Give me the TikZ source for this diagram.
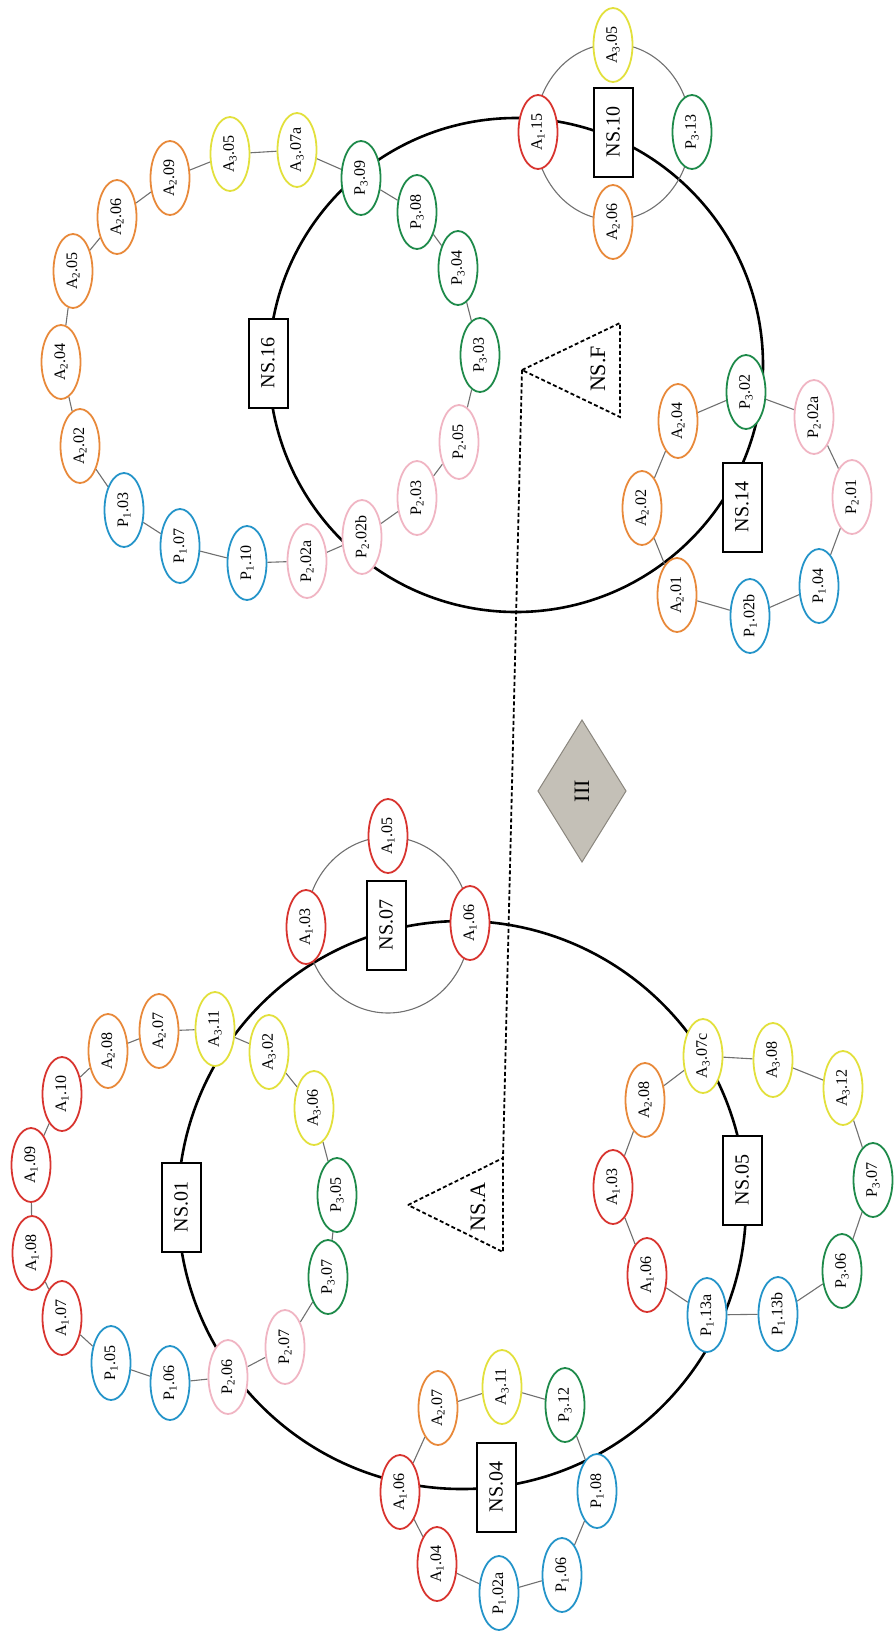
\documentclass[tikz,border=0pt]{standalone}
\usepackage{fontspec}
\setmainfont{Liberation Serif}
\usetikzlibrary{shapes.geometric}
\definecolor{redc}{HTML}{D8342F}
\definecolor{orangec}{HTML}{E8893A}
\definecolor{yellowc}{HTML}{E2E03C}
\definecolor{greenc}{HTML}{1E8A4A}
\definecolor{bluec}{HTML}{2494C9}
\definecolor{pinkc}{HTML}{F0B5C3}
\definecolor{edgec}{HTML}{707070}
\definecolor{diafill}{HTML}{C4C0B7}
\definecolor{diadraw}{HTML}{8A867E}
\pgfdeclarelayer{bg}
\pgfsetlayers{bg,main}
\newcommand{\lA}[2]{A\textsubscript{#1}.#2}
\newcommand{\lP}[2]{P\textsubscript{#1}.#2}
\tikzset{
  ell/.style={ellipse, line width=1.8pt, fill=white, minimum width=74pt, minimum height=39pt, inner sep=0pt, rotate=90, font=\fontsize{16}{16}\selectfont},
  ra/.style={ell, draw=redc},
  oa/.style={ell, draw=orangec},
  ya/.style={ell, draw=yellowc},
  gp/.style={ell, draw=greenc},
  bp/.style={ell, draw=bluec},
  pp/.style={ell, draw=pinkc},
  nsbox/.style={draw, line width=2pt, fill=white, minimum width=89pt, minimum height=39pt, inner sep=0pt, rotate=90, font=\fontsize{20}{20}\selectfont},
  lnk/.style={draw=edgec, line width=1.1pt},
  bigc/.style={draw=black, line width=2.6pt},
  smallc/.style={draw=edgec, line width=1.1pt},
  tri/.style={draw=black, line width=1.8pt, dash pattern=on 4pt off 2.5pt},
  ttext/.style={rotate=90, font=\fontsize{22}{22}\selectfont},
}
\begin{document}
\begin{tikzpicture}[x=1pt,y=-1pt]
\useasboundingbox (0,0) rectangle (895,1634);

% ---------------- upper group ----------------
\node[nsbox] (ns16) at (268,363) {NS.16};
\node[nsbox] (ns10) at (613,132) {NS.10};
\node[nsbox] (ns14) at (742,507) {NS.14};

\node[oa] (u_a2_02) at (80,446) {\lA{2}{02}};
\node[oa] (u_a2_04) at (61,362) {\lA{2}{04}};
\node[oa] (u_a2_05) at (73,271) {\lA{2}{05}};
\node[oa] (u_a2_06) at (117,217) {\lA{2}{06}};
\node[oa] (u_a2_09) at (170,178) {\lA{2}{09}};
\node[ya] (u_a3_05) at (230,154) {\lA{3}{05}};
\node[ya] (u_a3_07a) at (297,150) {\lA{3}{07a}};
\node[gp] (u_p3_09) at (361,178) {\lP{3}{09}};
\node[gp] (u_p3_08) at (417,212) {\lP{3}{08}};
\node[gp] (u_p3_04) at (458,268) {\lP{3}{04}};
\node[gp] (u_p3_03) at (480,355) {\lP{3}{03}};
\node[pp] (u_p2_05) at (459,442) {\lP{2}{05}};
\node[pp] (u_p2_03) at (417,498) {\lP{2}{03}};
\node[pp] (u_p2_02b) at (362,537) {\lP{2}{02b}};
\node[pp] (u_p2_02a) at (307,561) {\lP{2}{02a}};
\node[bp] (u_p1_10) at (247,563) {\lP{1}{10}};
\node[bp] (u_p1_07) at (180,546) {\lP{1}{07}};
\node[bp] (u_p1_03) at (124,510) {\lP{1}{03}};

\node[ra] (t_a1_15) at (538,132) {\lA{1}{15}};
\node[ya] (t_a3_05) at (613,45) {\lA{3}{05}};
\node[gp] (t_p3_13) at (692,132) {\lP{3}{13}};
\node[oa] (t_a2_06) at (613,222) {\lA{2}{06}};

\node[oa] (f_a2_04) at (678,421) {\lA{2}{04}};
\node[gp] (f_p3_02) at (746,392) {\lP{3}{02}};
\node[pp] (f_p2_02a) at (814,417) {\lP{2}{02a}};
\node[pp] (f_p2_01) at (852,497) {\lP{2}{01}};
\node[bp] (f_p1_04) at (819,586) {\lP{1}{04}};
\node[bp] (f_p1_02b) at (750,616) {\lP{1}{02b}};
\node[oa] (f_a2_01) at (677,595) {\lA{2}{01}};
\node[oa] (f_a2_02) at (642,508) {\lA{2}{02}};

% ---------------- lower group ----------------
\node[nsbox] (ns01) at (181,1207) {NS.01};
\node[nsbox] (ns07) at (386,925) {NS.07};
\node[nsbox] (ns05) at (742,1180) {NS.05};
\node[nsbox] (ns04) at (496,1487) {NS.04};

\node[ra] (l_a1_07) at (62,1318) {\lA{1}{07}};
\node[ra] (l_a1_08) at (32,1253) {\lA{1}{08}};
\node[ra] (l_a1_09) at (31,1165) {\lA{1}{09}};
\node[ra] (l_a1_10) at (62,1094) {\lA{1}{10}};
\node[oa] (l_a2_08) at (108,1051) {\lA{2}{08}};
\node[oa] (l_a2_07) at (159,1031) {\lA{2}{07}};
\node[ya] (l_a3_11) at (215,1029) {\lA{3}{11}};
\node[ya] (l_a3_02) at (269,1052) {\lA{3}{02}};
\node[ya] (l_a3_06) at (314,1108) {\lA{3}{06}};
\node[gp] (l_p3_05) at (337,1195) {\lP{3}{05}};
\node[gp] (l_p3_07) at (328,1277) {\lP{3}{07}};
\node[pp] (l_p2_07) at (285,1347) {\lP{2}{07}};
\node[pp] (l_p2_06) at (228,1377) {\lP{2}{06}};
\node[bp] (l_p1_06) at (170,1383) {\lP{1}{06}};
\node[bp] (l_p1_05) at (111,1363) {\lP{1}{05}};

\node[ra] (s_a1_03) at (306,927) {\lA{1}{03}};
\node[ra] (s_a1_05) at (388,836) {\lA{1}{05}};
\node[ra] (s_a1_06) at (470,923) {\lA{1}{06}};

\node[ra] (d_a1_06) at (400,1492) {\lA{1}{06}};
\node[oa] (d_a2_07) at (438,1408) {\lA{2}{07}};
\node[ya] (d_a3_11) at (502,1387) {\lA{3}{11}};
\node[gp] (d_p3_12) at (565,1405) {\lP{3}{12}};
\node[bp] (d_p1_08) at (597,1491) {\lP{1}{08}};
\node[bp] (d_p1_06) at (562,1575) {\lP{1}{06}};
\node[bp] (d_p1_02a) at (499,1593) {\lP{1}{02a}};
\node[ra] (d_a1_04) at (437,1564) {\lA{1}{04}};

\node[ra] (e_a1_06) at (647,1275) {\lA{1}{06}};
\node[ra] (e_a1_03) at (613,1187) {\lA{1}{03}};
\node[oa] (e_a2_08) at (645,1100) {\lA{2}{08}};
\node[ya] (e_a3_07c) at (703,1056) {\lA{3}{07c}};
\node[ya] (e_a3_08) at (773,1060) {\lA{3}{08}};
\node[ya] (e_a3_12) at (843,1088) {\lA{3}{12}};
\node[gp] (e_p3_07) at (873,1180) {\lP{3}{07}};
\node[gp] (e_p3_06) at (842,1271) {\lP{3}{06}};
\node[bp] (e_p1_13b) at (778,1314) {\lP{1}{13b}};
\node[bp] (e_p1_13a) at (707,1315) {\lP{1}{13a}};

% ---------------- triangles, diamond ----------------
\coordinate (Fapex) at (522,370);
\coordinate (Ftop) at (620,323);
\coordinate (Fbot) at (620,417);
\draw[tri] (Fapex) -- (Ftop) -- (Fbot) -- cycle;
\node[ttext] (nsf) at (598,369) {NS.F};

\coordinate (Aapex) at (408,1205);
\coordinate (Atop) at (503,1158);
\coordinate (Abot) at (503,1252);
\draw[tri] (Aapex) -- (Atop) -- (Abot) -- cycle;
\node[ttext] (nsa) at (478,1207) {NS.A};

\draw[tri] (Fapex) -- (Atop);

\coordinate (Dt) at (582,720);
\coordinate (Dr) at (626,791);
\coordinate (Db) at (582,862);
\coordinate (Dl) at (538,791);
\draw[fill=diafill, draw=diadraw, line width=1pt] (Dt) -- (Dr) -- (Db) -- (Dl) -- cycle;
\node[ttext] (three) at (582,791) {III};

% ---------------- background lines ----------------
\begin{pgfonlayer}{bg}
\draw[bigc] (516,365) circle[radius=247pt];
\draw[bigc] (462,1205) circle[radius=284pt];
\draw[smallc] (613,132) ellipse[x radius=78pt, y radius=88pt];
\draw[smallc] (388,925) ellipse[x radius=82pt, y radius=88pt];

\draw[lnk] (u_a2_02) -- (u_a2_04) -- (u_a2_05) -- (u_a2_06) -- (u_a2_09) -- (u_a3_05) -- (u_a3_07a) -- (u_p3_09) -- (u_p3_08) -- (u_p3_04) -- (u_p3_03) -- (u_p2_05) -- (u_p2_03) -- (u_p2_02b) -- (u_p2_02a) -- (u_p1_10) -- (u_p1_07) -- (u_p1_03) -- (u_a2_02);

\draw[lnk] (f_a2_04) -- (f_p3_02) -- (f_p2_02a) -- (f_p2_01) -- (f_p1_04) -- (f_p1_02b) -- (f_a2_01) -- (f_a2_02) -- (f_a2_04);

\draw[lnk] (l_a1_07) -- (l_a1_08) -- (l_a1_09) -- (l_a1_10) -- (l_a2_08) -- (l_a2_07) -- (l_a3_11) -- (l_a3_02) -- (l_a3_06) -- (l_p3_05) -- (l_p3_07) -- (l_p2_07) -- (l_p2_06) -- (l_p1_06) -- (l_p1_05) -- (l_a1_07);

\draw[lnk] (d_a1_06) -- (d_a2_07) -- (d_a3_11) -- (d_p3_12) -- (d_p1_08) -- (d_p1_06) -- (d_p1_02a) -- (d_a1_04) -- (d_a1_06);

\draw[lnk] (e_a1_06) -- (e_a1_03) -- (e_a2_08) -- (e_a3_07c) -- (e_a3_08) -- (e_a3_12) -- (e_p3_07) -- (e_p3_06) -- (e_p1_13b) -- (e_p1_13a) -- (e_a1_06);
\end{pgfonlayer}
\end{tikzpicture}
\end{document}
